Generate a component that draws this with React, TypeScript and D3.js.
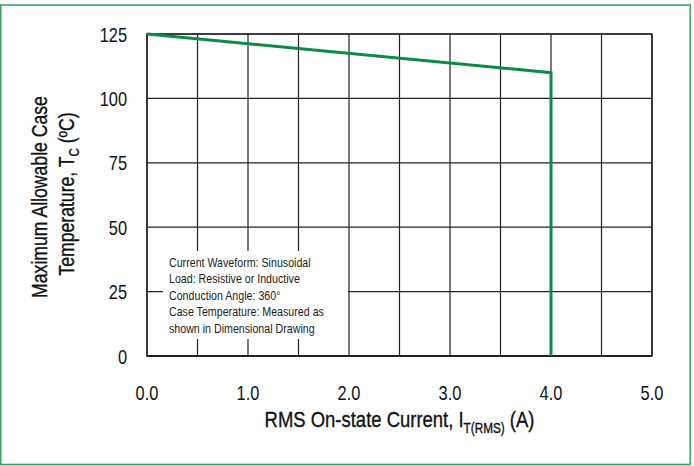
import React, { useEffect, useRef } from 'react';
import * as d3 from 'd3';

// derating curve
const current = [0, 4, 4];
const caseTemp = [125, 110, 0];

const xTicks = [0, 1, 2, 3, 4, 5];
const xGrid = [0, 0.5, 1, 1.5, 2, 2.5, 3, 3.5, 4, 4.5, 5];
const yTicks = [0, 25, 50, 75, 100, 125];

const notes = [
    'Current Waveform: Sinusoidal',
    'Load: Resistive or Inductive',
    'Conduction Angle: 360°',
    'Case Temperature: Measured as',
    'shown in Dimensional Drawing',
];

// no narrow font installed, so squeeze Liberation Sans like Arial Narrow
const FONT = '"Liberation Sans", Arial, sans-serif';
const SQ = 'scale(0.82,1)';

export default function App() {
    const ref = useRef<SVGSVGElement>(null);

    useEffect(() => {
        document.body.style.margin = '0';
        const svg = d3.select(ref.current);
        svg.selectAll('*').remove();

        var margin = { top: 34, right: 42, bottom: 110, left: 147 },
            width = 694 - margin.left - margin.right,
            height = 466 - margin.top - margin.bottom;

        var x = d3.scaleLinear().domain([0, 5]).range([0, width]);
        var y = d3.scaleLinear().domain([0, 125]).range([height, 0]);

        // outer frame
        svg.append('rect')
            .attr('x', 0.75)
            .attr('y', 5)
            .attr('width', 689.5)
            .attr('height', 459.5)
            .attr('fill', '#fff')
            .attr('stroke', '#3aa468')
            .attr('stroke-width', 1.6);

        const g = svg.append('g')
            .attr('transform', 'translate(' + margin.left + ',' + margin.top + ')');

        // grid
        g.selectAll('line.vgrid')
            .data(xGrid)
            .enter()
            .append('line')
            .attr('x1', d => x(d))
            .attr('x2', d => x(d))
            .attr('y1', 0)
            .attr('y2', height)
            .attr('stroke', '#222')
            .attr('stroke-width', 1.2);

        g.selectAll('line.hgrid')
            .data(yTicks)
            .enter()
            .append('line')
            .attr('x1', 0)
            .attr('x2', width)
            .attr('y1', d => y(d))
            .attr('y2', d => y(d))
            .attr('stroke', '#222')
            .attr('stroke-width', 1.2);

        // note box covers the grid
        g.append('rect')
            .attr('x', 16)
            .attr('y', 217)
            .attr('width', 185)
            .attr('height', 88)
            .attr('fill', '#fff');

        g.append('text')
            .attr('transform', 'translate(22,233) ' + SQ)
            .attr('font-family', FONT)
            .attr('font-size', 13)
            .attr('fill', '#222')
            .selectAll('tspan')
            .data(notes)
            .enter()
            .append('tspan')
            .attr('x', 0)
            .attr('y', (d, i) => i * 16.5)
            .text(d => d);

        // plot border
        g.append('rect')
            .attr('width', width)
            .attr('height', height)
            .attr('fill', 'none')
            .attr('stroke', '#222')
            .attr('stroke-width', 1.5);
        g.append('line')
            .attr('x1', 0)
            .attr('x2', width)
            .attr('y1', height)
            .attr('y2', height)
            .attr('stroke', '#222')
            .attr('stroke-width', 2.2);

        // curve
        const line = d3.line<number>()
            .x((d, i) => x(current[i]))
            .y(d => y(d));
        g.append('path')
            .datum(caseTemp)
            .attr('d', line)
            .attr('fill', 'none')
            .attr('stroke', '#0b8c45')
            .attr('stroke-width', 3);

        // tick labels
        g.selectAll('text.xt')
            .data(xTicks)
            .enter()
            .append('text')
            .attr('transform', d => 'translate(' + x(d) + ',' + (height + 44) + ') ' + SQ)
            .attr('text-anchor', 'middle')
            .attr('font-family', FONT)
            .attr('font-size', 20)
            .attr('fill', '#111')
            .text(d => d.toFixed(1));

        g.selectAll('text.yt')
            .data(yTicks)
            .enter()
            .append('text')
            .attr('transform', d => 'translate(-20,' + (y(d) + 7.5) + ') ' + SQ)
            .attr('text-anchor', 'end')
            .attr('font-family', FONT)
            .attr('font-size', 20)
            .attr('fill', '#111')
            .text(d => d);

        // x title
        const xt = g.append('text')
            .attr('transform', 'translate(' + width / 2 + ',' + (height + 71) + ') scale(0.84,1)')
            .attr('text-anchor', 'middle')
            .attr('font-family', FONT)
            .attr('font-size', 22)
            .attr('fill', '#111')
            .attr('stroke', '#111')
            .attr('stroke-width', 0.35);
        xt.append('tspan').text('RMS On-state Current, I');
        xt.append('tspan').attr('font-size', 14).attr('dy', 6).text('T(RMS)');
        xt.append('tspan').attr('dy', -6).text(' (A)');

        // y title, two lines
        const yt = svg.append('text')
            .attr('transform', 'translate(47,197) rotate(-90) ' + SQ)
            .attr('text-anchor', 'middle')
            .attr('font-family', FONT)
            .attr('font-size', 21.5)
            .attr('fill', '#111')
            .attr('stroke', '#111')
            .attr('stroke-width', 0.35);
        yt.append('tspan').text('Maximum Allowable Case');
        const yt2 = svg.append('text')
            .attr('transform', 'translate(74,194) rotate(-90) ' + SQ)
            .attr('text-anchor', 'middle')
            .attr('font-family', FONT)
            .attr('font-size', 21.5)
            .attr('fill', '#111')
            .attr('stroke', '#111')
            .attr('stroke-width', 0.35);
        yt2.append('tspan').text('Temperature, T');
        yt2.append('tspan').attr('font-size', 14).attr('dy', 5).text('C');
        yt2.append('tspan').attr('dy', -5).text(' (ºC)');
    }, []);

    return <svg ref={ref} width={694} height={466}></svg>;
}
